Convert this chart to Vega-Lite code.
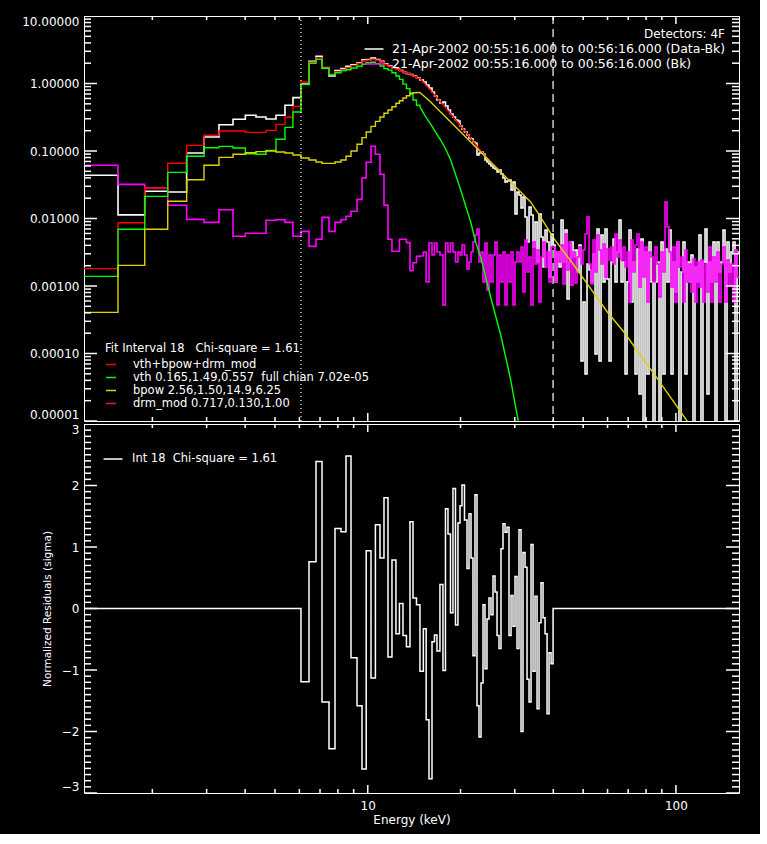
{
"$schema":"https://vega.github.io/schema/vega-lite/v6.json",
"background":"black",
"padding":{"left":21,"top":14,"right":20,"bottom":8},
"spacing":0,
"config":{
 "font":"DejaVu Sans",
 "view":{"stroke":"white","strokeWidth":1},
 "axis":{"domain":false,"grid":false,"labelColor":"white","tickColor":"white","titleColor":"white","labelFontSize":12,"titleFontSize":12,"titleFontWeight":"normal","minExtent":0},
 "legend":{"labelColor":"white","titleColor":"white","labelFontSize":11.5,"titleFontSize":11.5,"titleFontWeight":"normal","symbolType":"stroke","symbolStrokeWidth":1.5,"labelLimit":600,"titleLimit":600,"padding":0}
},
"datasets":{
"ytick":[{"t":0.00001,"k":"ymaj"},{"t":0.0001,"k":"ymaj"},{"t":0.001,"k":"ymaj"},{"t":0.01,"k":"ymaj"},{"t":0.1,"k":"ymaj"},{"t":1,"k":"ymaj"},{"t":10,"k":"ymaj"},
{"t":0.00002,"k":"ymin"},{"t":0.00003,"k":"ymin"},{"t":0.00004,"k":"ymin"},{"t":0.00005,"k":"ymin"},{"t":0.00006,"k":"ymin"},{"t":0.00007,"k":"ymin"},{"t":0.00008,"k":"ymin"},{"t":0.00009,"k":"ymin"},
{"t":0.0002,"k":"ymin"},{"t":0.0003,"k":"ymin"},{"t":0.0004,"k":"ymin"},{"t":0.0005,"k":"ymin"},{"t":0.0006,"k":"ymin"},{"t":0.0007,"k":"ymin"},{"t":0.0008,"k":"ymin"},{"t":0.0009,"k":"ymin"},
{"t":0.002,"k":"ymin"},{"t":0.003,"k":"ymin"},{"t":0.004,"k":"ymin"},{"t":0.005,"k":"ymin"},{"t":0.006,"k":"ymin"},{"t":0.007,"k":"ymin"},{"t":0.008,"k":"ymin"},{"t":0.009,"k":"ymin"},
{"t":0.02,"k":"ymin"},{"t":0.03,"k":"ymin"},{"t":0.04,"k":"ymin"},{"t":0.05,"k":"ymin"},{"t":0.06,"k":"ymin"},{"t":0.07,"k":"ymin"},{"t":0.08,"k":"ymin"},{"t":0.09,"k":"ymin"},
{"t":0.2,"k":"ymin"},{"t":0.3,"k":"ymin"},{"t":0.4,"k":"ymin"},{"t":0.5,"k":"ymin"},{"t":0.6,"k":"ymin"},{"t":0.7,"k":"ymin"},{"t":0.8,"k":"ymin"},{"t":0.9,"k":"ymin"},
{"t":2,"k":"ymin"},{"t":3,"k":"ymin"},{"t":4,"k":"ymin"},{"t":5,"k":"ymin"},{"t":6,"k":"ymin"},{"t":7,"k":"ymin"},{"t":8,"k":"ymin"},{"t":9,"k":"ymin"}],
"rtick":[{"t":-3,"k":"ymaj"},{"t":-2,"k":"ymaj"},{"t":-1,"k":"ymaj"},{"t":0,"k":"ymaj"},{"t":1,"k":"ymaj"},{"t":2,"k":"ymaj"},{"t":3,"k":"ymaj"},
{"t":-2.9,"k":"ymin"},{"t":-2.8,"k":"ymin"},{"t":-2.7,"k":"ymin"},{"t":-2.6,"k":"ymin"},{"t":-2.5,"k":"ymin"},{"t":-2.4,"k":"ymin"},{"t":-2.3,"k":"ymin"},{"t":-2.2,"k":"ymin"},{"t":-2.1,"k":"ymin"},
{"t":-1.9,"k":"ymin"},{"t":-1.8,"k":"ymin"},{"t":-1.7,"k":"ymin"},{"t":-1.6,"k":"ymin"},{"t":-1.5,"k":"ymin"},{"t":-1.4,"k":"ymin"},{"t":-1.3,"k":"ymin"},{"t":-1.2,"k":"ymin"},{"t":-1.1,"k":"ymin"},
{"t":-0.9,"k":"ymin"},{"t":-0.8,"k":"ymin"},{"t":-0.7,"k":"ymin"},{"t":-0.6,"k":"ymin"},{"t":-0.5,"k":"ymin"},{"t":-0.4,"k":"ymin"},{"t":-0.3,"k":"ymin"},{"t":-0.2,"k":"ymin"},{"t":-0.1,"k":"ymin"},
{"t":0.1,"k":"ymin"},{"t":0.2,"k":"ymin"},{"t":0.3,"k":"ymin"},{"t":0.4,"k":"ymin"},{"t":0.5,"k":"ymin"},{"t":0.6,"k":"ymin"},{"t":0.7,"k":"ymin"},{"t":0.8,"k":"ymin"},{"t":0.9,"k":"ymin"},
{"t":1.1,"k":"ymin"},{"t":1.2,"k":"ymin"},{"t":1.3,"k":"ymin"},{"t":1.4,"k":"ymin"},{"t":1.5,"k":"ymin"},{"t":1.6,"k":"ymin"},{"t":1.7,"k":"ymin"},{"t":1.8,"k":"ymin"},{"t":1.9,"k":"ymin"},
{"t":2.1,"k":"ymin"},{"t":2.2,"k":"ymin"},{"t":2.3,"k":"ymin"},{"t":2.4,"k":"ymin"},{"t":2.5,"k":"ymin"},{"t":2.6,"k":"ymin"},{"t":2.7,"k":"ymin"},{"t":2.8,"k":"ymin"},{"t":2.9,"k":"ymin"}],
"xtick":[{"t":10,"k":"xmaj"},{"t":100,"k":"xmaj"},{"t":2,"k":"xmin"},{"t":3,"k":"xmin"},{"t":4,"k":"xmin"},{"t":5,"k":"xmin"},{"t":6,"k":"xmin"},{"t":7,"k":"xmin"},{"t":8,"k":"xmin"},{"t":9,"k":"xmin"},{"t":20,"k":"xmin"},{"t":30,"k":"xmin"},{"t":40,"k":"xmin"},{"t":50,"k":"xmin"},{"t":60,"k":"xmin"},{"t":70,"k":"xmin"},{"t":80,"k":"xmin"},{"t":90,"k":"xmin"}],
"spec":[
{"s":"Data-Bk","e":1.2,"v":0.0437},{"s":"Data-Bk","e":1.547,"v":0.0113},{"s":"Data-Bk","e":1.889,"v":0.0253},{"s":"Data-Bk","e":2.243,"v":0.0247},{"s":"Data-Bk","e":2.584,"v":0.0933},{"s":"Data-Bk","e":2.942,"v":0.161},{"s":"Data-Bk","e":3.29,"v":0.245},{"s":"Data-Bk","e":3.654,"v":0.295},{"s":"Data-Bk","e":4.007,"v":0.338},{"s":"Data-Bk","e":4.338,"v":0.319},
{"s":"Data-Bk","e":4.675,"v":0.298},{"s":"Data-Bk","e":5.038,"v":0.338},{"s":"Data-Bk","e":5.387,"v":0.475},{"s":"Data-Bk","e":5.718,"v":0.617},{"s":"Data-Bk","e":6.071,"v":0.983},{"s":"Data-Bk","e":6.447,"v":2.13},{"s":"Data-Bk","e":6.793,"v":2.53},{"s":"Data-Bk","e":7.105,"v":1.7},{"s":"Data-Bk","e":7.486,"v":1.29},{"s":"Data-Bk","e":7.829,"v":1.55},
{"s":"Data-Bk","e":8.188,"v":1.66},{"s":"Data-Bk","e":8.499,"v":1.8},{"s":"Data-Bk","e":8.823,"v":1.9},{"s":"Data-Bk","e":9.228,"v":2.01},{"s":"Data-Bk","e":9.579,"v":2.25},{"s":"Data-Bk","e":9.884,"v":2.27},{"s":"Data-Bk","e":10.244,"v":2.39},{"s":"Data-Bk","e":10.587,"v":2.27},{"s":"Data-Bk","e":10.957,"v":2.13},{"s":"Data-Bk","e":11.289,"v":1.94},
{"s":"Data-Bk","e":11.631,"v":1.82},{"s":"Data-Bk","e":11.982,"v":1.72},{"s":"Data-Bk","e":12.345,"v":1.64},{"s":"Data-Bk","e":12.67,"v":1.56},{"s":"Data-Bk","e":13.01,"v":1.46},{"s":"Data-Bk","e":13.35,"v":1.4},{"s":"Data-Bk","e":13.71,"v":1.36},{"s":"Data-Bk","e":14.02,"v":1.29},{"s":"Data-Bk","e":14.39,"v":1.2},{"s":"Data-Bk","e":14.77,"v":1.127},
{"s":"Data-Bk","e":15.15,"v":1.052},{"s":"Data-Bk","e":15.47,"v":0.95},{"s":"Data-Bk","e":15.8,"v":0.858},{"s":"Data-Bk","e":16.16,"v":0.748},{"s":"Data-Bk","e":16.46,"v":0.653},{"s":"Data-Bk","e":16.77,"v":0.569},{"s":"Data-Bk","e":17.15,"v":0.514},{"s":"Data-Bk","e":17.54,"v":0.532},{"s":"Data-Bk","e":17.87,"v":0.464},{"s":"Data-Bk","e":18.21,"v":0.405},
{"s":"Data-Bk","e":18.55,"v":0.353},{"s":"Data-Bk","e":18.9,"v":0.319},{"s":"Data-Bk","e":19.26,"v":0.288},{"s":"Data-Bk","e":19.62,"v":0.278},{"s":"Data-Bk","e":19.92,"v":0.235},{"s":"Data-Bk","e":20.22,"v":0.212},{"s":"Data-Bk","e":20.6,"v":0.191},{"s":"Data-Bk","e":20.99,"v":0.173},{"s":"Data-Bk","e":21.31,"v":0.156},{"s":"Data-Bk","e":21.63,"v":0.151},
{"s":"Data-Bk","e":21.95,"v":0.136},{"s":"Data-Bk","e":22.28,"v":0.13},{"s":"Data-Bk","e":22.62,"v":0.0873},{"s":"Data-Bk","e":22.96,"v":0.0934},{"s":"Data-Bk","e":23.31,"v":0.0966},{"s":"Data-Bk","e":23.66,"v":0.0903},{"s":"Data-Bk","e":24.01,"v":0.0736},{"s":"Data-Bk","e":24.37,"v":0.0687},{"s":"Data-Bk","e":24.74,"v":0.0642},{"s":"Data-Bk","e":25.11,"v":0.06},
{"s":"Data-Bk","e":25.49,"v":0.056},{"s":"Data-Bk","e":25.88,"v":0.0541},{"s":"Data-Bk","e":26.27,"v":0.0489},{"s":"Data-Bk","e":26.66,"v":0.0523},{"s":"Data-Bk","e":27.06,"v":0.0456},{"s":"Data-Bk","e":27.47,"v":0.0398},{"s":"Data-Bk","e":27.89,"v":0.0347},{"s":"Data-Bk","e":28.31,"v":0.0359},{"s":"Data-Bk","e":28.73,"v":0.0372},{"s":"Data-Bk","e":29.17,"v":0.0264},
{"s":"Data-Bk","e":29.6,"v":0.0347},{"s":"Data-Bk","e":30.05,"v":0.01166},{"s":"Data-Bk","e":30.5,"v":0.0247},{"s":"Data-Bk","e":30.96,"v":0.0223},{"s":"Data-Bk","e":31.43,"v":0.0143},{"s":"Data-Bk","e":31.9,"v":0.0208},{"s":"Data-Bk","e":32.38,"v":0.01052},{"s":"Data-Bk","e":32.87,"v":0.00449},{"s":"Data-Bk","e":33.37,"v":0.0148},{"s":"Data-Bk","e":33.87,"v":0.01127},
{"s":"Data-Bk","e":34.38,"v":0.00378},{"s":"Data-Bk","e":34.9,"v":0.00887},{"s":"Data-Bk","e":35.43,"v":0.00227},{"s":"Data-Bk","e":35.96,"v":0.01166},{"s":"Data-Bk","e":36.5,"v":0.00532},{"s":"Data-Bk","e":37.05,"v":0.00191},{"s":"Data-Bk","e":37.61,"v":0.00675},{"s":"Data-Bk","e":38.18,"v":0.00449},{"s":"Data-Bk","e":38.75,"v":0.00136},{"s":"Data-Bk","e":39.34,"v":0.00589},
{"s":"Data-Bk","e":39.93,"v":0.00405},{"s":"Data-Bk","e":40.53,"v":0.00115},{"s":"Data-Bk","e":41.14,"v":0.00319},{"s":"Data-Bk","e":41.76,"v":0.00191},{"s":"Data-Bk","e":42.39,"v":0.0095},{"s":"Data-Bk","e":43.03,"v":0.00227},{"s":"Data-Bk","e":43.68,"v":0.00675},{"s":"Data-Bk","e":44.33,"v":0.000642},{"s":"Data-Bk","e":45.0,"v":0.00227},{"s":"Data-Bk","e":45.68,"v":0.00449},
{"s":"Data-Bk","e":46.36,"v":0.00269},{"s":"Data-Bk","e":47.06,"v":0.00341},{"s":"Data-Bk","e":47.77,"v":0.00161},{"s":"Data-Bk","e":48.49,"v":0.00405},{"s":"Data-Bk","e":49.22,"v":0.0000774},{"s":"Data-Bk","e":49.96,"v":0.000579},{"s":"Data-Bk","e":50.71,"v":0.0000497},{"s":"Data-Bk","e":51.47,"v":0.00212},{"s":"Data-Bk","e":52.25,"v":0.00173},{"s":"Data-Bk","e":53.03,"v":0.00115},
{"s":"Data-Bk","e":53.83,"v":0.00298},{"s":"Data-Bk","e":54.64,"v":0.0000983},{"s":"Data-Bk","e":55.46,"v":0.00699},{"s":"Data-Bk","e":56.3,"v":0.0000774},{"s":"Data-Bk","e":57.15,"v":0.0057},{"s":"Data-Bk","e":58.01,"v":0.00115},{"s":"Data-Bk","e":58.88,"v":0.00699},{"s":"Data-Bk","e":59.77,"v":0.00127},{"s":"Data-Bk","e":60.67,"v":0.0000774},{"s":"Data-Bk","e":61.58,"v":0.00227},
{"s":"Data-Bk","e":62.51,"v":0.00497},{"s":"Data-Bk","e":63.45,"v":0.00115},{"s":"Data-Bk","e":64.4,"v":0.00319},{"s":"Data-Bk","e":65.37,"v":0.0095},{"s":"Data-Bk","e":66.36,"v":0.00115},{"s":"Data-Bk","e":67.36,"v":0.00227},{"s":"Data-Bk","e":68.37,"v":0.0000497},{"s":"Data-Bk","e":69.4,"v":0.00115},{"s":"Data-Bk","e":70.44,"v":0.00675},{"s":"Data-Bk","e":71.5,"v":0.000579},
{"s":"Data-Bk","e":72.58,"v":0.00227},{"s":"Data-Bk","e":73.67,"v":0.0000497},{"s":"Data-Bk","e":74.78,"v":0.00353},{"s":"Data-Bk","e":75.91,"v":0.0000251},{"s":"Data-Bk","e":77.05,"v":0.00497},{"s":"Data-Bk","e":78.21,"v":1e-8},{"s":"Data-Bk","e":79.39,"v":0.00319},{"s":"Data-Bk","e":80.58,"v":0.0000497},{"s":"Data-Bk","e":81.79,"v":0.00449},{"s":"Data-Bk","e":83.02,"v":0.00115},
{"s":"Data-Bk","e":84.27,"v":1e-8},{"s":"Data-Bk","e":85.54,"v":0.00115},{"s":"Data-Bk","e":86.83,"v":0.00227},{"s":"Data-Bk","e":88.14,"v":1e-8},{"s":"Data-Bk","e":89.47,"v":0.00449},{"s":"Data-Bk","e":90.81,"v":0.0000497},{"s":"Data-Bk","e":92.18,"v":0.00353},{"s":"Data-Bk","e":93.57,"v":0.00115},{"s":"Data-Bk","e":94.98,"v":0.00675},{"s":"Data-Bk","e":96.41,"v":0.0000497},
{"s":"Data-Bk","e":97.86,"v":0.00227},{"s":"Data-Bk","e":99.33,"v":0.000815},{"s":"Data-Bk","e":100.8,"v":0.00449},{"s":"Data-Bk","e":102.3,"v":1e-8},{"s":"Data-Bk","e":103.9,"v":0.00161},{"s":"Data-Bk","e":105.4,"v":0.00449},{"s":"Data-Bk","e":107.0,"v":0.0000497},{"s":"Data-Bk","e":108.6,"v":0.00227},{"s":"Data-Bk","e":110.3,"v":0.00115},{"s":"Data-Bk","e":111.9,"v":0.00288},
{"s":"Data-Bk","e":113.6,"v":1e-8},{"s":"Data-Bk","e":115.3,"v":0.00191},{"s":"Data-Bk","e":117.1,"v":0.00115},{"s":"Data-Bk","e":118.8,"v":0.0057},{"s":"Data-Bk","e":120.6,"v":1e-8},{"s":"Data-Bk","e":122.4,"v":0.00227},{"s":"Data-Bk","e":124.3,"v":0.00699},{"s":"Data-Bk","e":126.1,"v":0.0000251},{"s":"Data-Bk","e":128.0,"v":0.00227},{"s":"Data-Bk","e":130.0,"v":0.00115},
{"s":"Data-Bk","e":131.9,"v":0.00449},{"s":"Data-Bk","e":133.9,"v":1e-8},{"s":"Data-Bk","e":135.9,"v":0.00449},{"s":"Data-Bk","e":138.0,"v":0.00161},{"s":"Data-Bk","e":140.1,"v":0.00227},{"s":"Data-Bk","e":142.2,"v":0.00675},{"s":"Data-Bk","e":144.3,"v":1e-8},{"s":"Data-Bk","e":146.5,"v":0.00449},{"s":"Data-Bk","e":148.7,"v":0.00161},{"s":"Data-Bk","e":150.9,"v":0.00319},
{"s":"Data-Bk","e":153.2,"v":0.00449},{"s":"Data-Bk","e":155.5,"v":1e-8},{"s":"Data-Bk","e":157.9,"v":0.00319},{"s":"Data-Bk","e":160.2,"v":0.00319},
{"s":"Bk","e":1.2,"v":0.0614},{"s":"Bk","e":1.547,"v":0.032},{"s":"Bk","e":1.889,"v":0.0283},{"s":"Bk","e":2.243,"v":0.0157},{"s":"Bk","e":2.584,"v":0.00972},{"s":"Bk","e":2.942,"v":0.00877},{"s":"Bk","e":3.29,"v":0.0135},{"s":"Bk","e":3.654,"v":0.00545},{"s":"Bk","e":4.007,"v":0.00604},{"s":"Bk","e":4.338,"v":0.00604},
{"s":"Bk","e":4.675,"v":0.0094},{"s":"Bk","e":5.038,"v":0.0096},{"s":"Bk","e":5.387,"v":0.00877},{"s":"Bk","e":5.718,"v":0.00545},{"s":"Bk","e":6.071,"v":0.00645},{"s":"Bk","e":6.447,"v":0.00387},{"s":"Bk","e":6.793,"v":0.00492},{"s":"Bk","e":7.105,"v":0.0104},{"s":"Bk","e":7.486,"v":0.00645},{"s":"Bk","e":7.829,"v":0.00877},
{"s":"Bk","e":8.188,"v":0.0096},{"s":"Bk","e":8.499,"v":0.0108},{"s":"Bk","e":8.823,"v":0.0128},{"s":"Bk","e":9.228,"v":0.0192},{"s":"Bk","e":9.579,"v":0.0398},{"s":"Bk","e":9.884,"v":0.068},{"s":"Bk","e":10.244,"v":0.1175},{"s":"Bk","e":10.587,"v":0.0893},{"s":"Bk","e":10.957,"v":0.0452},{"s":"Bk","e":11.289,"v":0.0158},
{"s":"Bk","e":11.631,"v":0.00492},{"s":"Bk","e":11.982,"v":0.00327},{"s":"Bk","e":12.345,"v":0.00327},{"s":"Bk","e":12.67,"v":0.00492},{"s":"Bk","e":13.01,"v":0.00492},{"s":"Bk","e":13.35,"v":0.00439},{"s":"Bk","e":13.71,"v":0.00169},{"s":"Bk","e":14.02,"v":0.00221},{"s":"Bk","e":14.39,"v":0.00275},{"s":"Bk","e":14.77,"v":0.00278},
{"s":"Bk","e":15.15,"v":0.00319},{"s":"Bk","e":15.47,"v":0.00115},{"s":"Bk","e":15.8,"v":0.00434},{"s":"Bk","e":16.16,"v":0.00288},{"s":"Bk","e":16.46,"v":0.00434},{"s":"Bk","e":16.77,"v":0.00319},{"s":"Bk","e":17.15,"v":0.00288},{"s":"Bk","e":17.54,"v":0.000523},{"s":"Bk","e":17.87,"v":0.00434},{"s":"Bk","e":18.21,"v":0.00319},
{"s":"Bk","e":18.55,"v":0.00434},{"s":"Bk","e":18.9,"v":0.00319},{"s":"Bk","e":19.26,"v":0.00227},{"s":"Bk","e":19.62,"v":0.00319},{"s":"Bk","e":19.92,"v":0.00288},{"s":"Bk","e":20.22,"v":0.00405},{"s":"Bk","e":20.6,"v":0.00288},{"s":"Bk","e":20.99,"v":0.00179},{"s":"Bk","e":21.31,"v":0.00227},{"s":"Bk","e":21.63,"v":0.00319},
{"s":"Bk","e":21.95,"v":0.00449},{"s":"Bk","e":22.28,"v":0.0057},{"s":"Bk","e":22.62,"v":0.00699},{"s":"Bk","e":22.96,"v":0.00227},{"s":"Bk","e":23.31,"v":0.00319},{"s":"Bk","e":23.66,"v":0.00115},{"s":"Bk","e":24.01,"v":0.00434},{"s":"Bk","e":24.37,"v":0.000872},{"s":"Bk","e":24.74,"v":0.00288},{"s":"Bk","e":25.11,"v":0.00115},
{"s":"Bk","e":25.49,"v":0.00288},{"s":"Bk","e":25.88,"v":0.00449},{"s":"Bk","e":26.27,"v":0.000523},{"s":"Bk","e":26.66,"v":0.00288},{"s":"Bk","e":27.06,"v":0.00115},{"s":"Bk","e":27.47,"v":0.00319},{"s":"Bk","e":27.89,"v":0.000523},{"s":"Bk","e":28.31,"v":0.00288},{"s":"Bk","e":28.73,"v":0.00115},{"s":"Bk","e":29.17,"v":0.00319},
{"s":"Bk","e":29.6,"v":0.000523},{"s":"Bk","e":30.05,"v":0.00227},{"s":"Bk","e":30.5,"v":0.00319},{"s":"Bk","e":30.96,"v":0.00227},{"s":"Bk","e":31.43,"v":0.00378},{"s":"Bk","e":31.9,"v":0.000815},{"s":"Bk","e":32.38,"v":0.0048},{"s":"Bk","e":32.87,"v":0.00161},{"s":"Bk","e":33.37,"v":0.00269},{"s":"Bk","e":33.87,"v":0.000523},
{"s":"Bk","e":34.38,"v":0.00449},{"s":"Bk","e":34.9,"v":0.00212},{"s":"Bk","e":35.43,"v":0.00341},{"s":"Bk","e":35.96,"v":0.000579},{"s":"Bk","e":36.5,"v":0.00269},{"s":"Bk","e":37.05,"v":0.00449},{"s":"Bk","e":37.61,"v":0.00191},{"s":"Bk","e":38.18,"v":0.00319},{"s":"Bk","e":38.75,"v":0.00115},{"s":"Bk","e":39.34,"v":0.00378},
{"s":"Bk","e":39.93,"v":0.00378},{"s":"Bk","e":40.53,"v":0.00115},{"s":"Bk","e":41.14,"v":0.00319},{"s":"Bk","e":41.76,"v":0.00227},{"s":"Bk","e":42.39,"v":0.00405},{"s":"Bk","e":43.03,"v":0.00107},{"s":"Bk","e":43.68,"v":0.00589},{"s":"Bk","e":44.33,"v":0.00173},{"s":"Bk","e":45.0,"v":0.00449},{"s":"Bk","e":45.68,"v":0.00103},
{"s":"Bk","e":46.36,"v":0.00319},{"s":"Bk","e":47.06,"v":0.00111},{"s":"Bk","e":47.77,"v":0.00269},{"s":"Bk","e":48.49,"v":0.00378},{"s":"Bk","e":49.22,"v":0.00212},{"s":"Bk","e":49.96,"v":0.00341},{"s":"Bk","e":50.71,"v":0.00589},{"s":"Bk","e":51.47,"v":0.01052},{"s":"Bk","e":52.25,"v":0.00212},{"s":"Bk","e":53.03,"v":0.00107},
{"s":"Bk","e":53.83,"v":0.0048},{"s":"Bk","e":54.64,"v":0.00161},{"s":"Bk","e":55.46,"v":0.0057},{"s":"Bk","e":56.3,"v":0.00341},{"s":"Bk","e":57.15,"v":0.00212},{"s":"Bk","e":58.01,"v":0.00419},{"s":"Bk","e":58.88,"v":0.00136},{"s":"Bk","e":59.77,"v":0.00353},{"s":"Bk","e":60.67,"v":0.00243},{"s":"Bk","e":61.58,"v":0.00378},
{"s":"Bk","e":62.51,"v":0.00212},{"s":"Bk","e":63.45,"v":0.00589},{"s":"Bk","e":64.4,"v":0.00269},{"s":"Bk","e":65.37,"v":0.0048},{"s":"Bk","e":66.36,"v":0.00243},{"s":"Bk","e":67.36,"v":0.00378},{"s":"Bk","e":68.37,"v":0.00191},{"s":"Bk","e":69.4,"v":0.00319},{"s":"Bk","e":70.44,"v":0.000579},{"s":"Bk","e":71.5,"v":0.0048},
{"s":"Bk","e":72.58,"v":0.00161},{"s":"Bk","e":73.67,"v":0.00405},{"s":"Bk","e":74.78,"v":0.00589},{"s":"Bk","e":75.91,"v":0.000966},{"s":"Bk","e":77.05,"v":0.00449},{"s":"Bk","e":78.21,"v":0.00136},{"s":"Bk","e":79.39,"v":0.00378},{"s":"Bk","e":80.58,"v":0.000579},{"s":"Bk","e":81.79,"v":0.00319},{"s":"Bk","e":83.02,"v":0.00269},
{"s":"Bk","e":84.27,"v":0.00115},{"s":"Bk","e":85.54,"v":0.00378},{"s":"Bk","e":86.83,"v":0.00212},{"s":"Bk","e":88.14,"v":0.000687},{"s":"Bk","e":89.47,"v":0.00319},{"s":"Bk","e":90.81,"v":0.00161},{"s":"Bk","e":92.18,"v":0.01756},{"s":"Bk","e":93.57,"v":0.00748},{"s":"Bk","e":94.98,"v":0.00319},{"s":"Bk","e":96.41,"v":0.000966},
{"s":"Bk","e":97.86,"v":0.00378},{"s":"Bk","e":99.33,"v":0.000579},{"s":"Bk","e":100.8,"v":0.00449},{"s":"Bk","e":102.3,"v":0.00191},{"s":"Bk","e":103.9,"v":0.00269},{"s":"Bk","e":105.4,"v":0.000579},{"s":"Bk","e":107.0,"v":0.00341},{"s":"Bk","e":108.6,"v":0.00115},{"s":"Bk","e":110.3,"v":0.00212},{"s":"Bk","e":111.9,"v":0.000815},
{"s":"Bk","e":113.6,"v":0.00251},{"s":"Bk","e":115.3,"v":0.000579},{"s":"Bk","e":117.1,"v":0.00227},{"s":"Bk","e":118.8,"v":0.000966},{"s":"Bk","e":120.6,"v":0.00243},{"s":"Bk","e":122.4,"v":0.000579},{"s":"Bk","e":124.3,"v":0.00212},{"s":"Bk","e":126.1,"v":0.000815},{"s":"Bk","e":128.0,"v":0.00378},{"s":"Bk","e":130.0,"v":0.000579},
{"s":"Bk","e":131.9,"v":0.00269},{"s":"Bk","e":133.9,"v":0.00115},{"s":"Bk","e":135.9,"v":0.00319},{"s":"Bk","e":138.0,"v":0.000579},{"s":"Bk","e":140.1,"v":0.00212},{"s":"Bk","e":142.2,"v":0.00378},{"s":"Bk","e":144.3,"v":0.000579},{"s":"Bk","e":146.5,"v":0.00243},{"s":"Bk","e":148.7,"v":0.00103},{"s":"Bk","e":150.9,"v":0.00212},
{"s":"Bk","e":153.2,"v":0.000579},{"s":"Bk","e":155.5,"v":0.00341},{"s":"Bk","e":157.9,"v":0.00136},{"s":"Bk","e":160.2,"v":0.00136}
],
"model":[
{"s":"vth+bpow+drm_mod","e":1.2,"v":0.00181},{"s":"vth+bpow+drm_mod","e":1.547,"v":0.00867},{"s":"vth+bpow+drm_mod","e":1.889,"v":0.0283},{"s":"vth+bpow+drm_mod","e":2.243,"v":0.0658},{"s":"vth+bpow+drm_mod","e":2.584,"v":0.121},{"s":"vth+bpow+drm_mod","e":2.942,"v":0.171},{"s":"vth+bpow+drm_mod","e":3.29,"v":0.198},{"s":"vth+bpow+drm_mod","e":3.654,"v":0.198},{"s":"vth+bpow+drm_mod","e":4.007,"v":0.189},{"s":"vth+bpow+drm_mod","e":4.338,"v":0.189},
{"s":"vth+bpow+drm_mod","e":4.675,"v":0.202},{"s":"vth+bpow+drm_mod","e":5.038,"v":0.248},{"s":"vth+bpow+drm_mod","e":5.387,"v":0.316},{"s":"vth+bpow+drm_mod","e":5.718,"v":0.459},{"s":"vth+bpow+drm_mod","e":6.071,"v":1.05},{"s":"vth+bpow+drm_mod","e":6.447,"v":2.06},{"s":"vth+bpow+drm_mod","e":6.793,"v":2.39},{"s":"vth+bpow+drm_mod","e":7.105,"v":1.74},{"s":"vth+bpow+drm_mod","e":7.486,"v":1.37},{"s":"vth+bpow+drm_mod","e":7.829,"v":1.5},
{"s":"vth+bpow+drm_mod","e":8.188,"v":1.6},{"s":"vth+bpow+drm_mod","e":8.499,"v":1.71},{"s":"vth+bpow+drm_mod","e":8.823,"v":1.84},{"s":"vth+bpow+drm_mod","e":9.228,"v":1.97},{"s":"vth+bpow+drm_mod","e":9.579,"v":2.15},{"s":"vth+bpow+drm_mod","e":9.884,"v":2.22},{"s":"vth+bpow+drm_mod","e":10.244,"v":2.28},{"s":"vth+bpow+drm_mod","e":10.587,"v":2.22},{"s":"vth+bpow+drm_mod","e":10.957,"v":2.08},{"s":"vth+bpow+drm_mod","e":11.289,"v":1.9},
{"s":"vth+bpow+drm_mod","e":11.631,"v":1.78},{"s":"vth+bpow+drm_mod","e":11.982,"v":1.7},{"s":"vth+bpow+drm_mod","e":12.345,"v":1.62},{"s":"vth+bpow+drm_mod","e":12.67,"v":1.53},{"s":"vth+bpow+drm_mod","e":13.01,"v":1.47},{"s":"vth+bpow+drm_mod","e":13.35,"v":1.4},{"s":"vth+bpow+drm_mod","e":13.71,"v":1.34},{"s":"vth+bpow+drm_mod","e":14.02,"v":1.27},{"s":"vth+bpow+drm_mod","e":14.39,"v":1.19},{"s":"vth+bpow+drm_mod","e":14.77,"v":1.19},
{"s":"vth+bpow+drm_mod","e":16.0,"v":0.79},{"s":"vth+bpow+drm_mod","e":17.24,"v":0.53},{"s":"vth+bpow+drm_mod","e":18.58,"v":0.355},{"s":"vth+bpow+drm_mod","e":20.03,"v":0.235},{"s":"vth+bpow+drm_mod","e":21.58,"v":0.155},{"s":"vth+bpow+drm_mod","e":23.25,"v":0.1},{"s":"vth+bpow+drm_mod","e":25.04,"v":0.0695},{"s":"vth+bpow+drm_mod","e":27.0,"v":0.049},
{"s":"vth","e":1.2,"v":0.00139},{"s":"vth","e":1.547,"v":0.00692},{"s":"vth","e":1.889,"v":0.0213},{"s":"vth","e":2.243,"v":0.0483},{"s":"vth","e":2.584,"v":0.0834},{"s":"vth","e":2.942,"v":0.112},{"s":"vth","e":3.29,"v":0.117},{"s":"vth","e":3.654,"v":0.111},{"s":"vth","e":4.007,"v":0.0912},{"s":"vth","e":4.338,"v":0.0893},
{"s":"vth","e":4.675,"v":0.102},{"s":"vth","e":5.038,"v":0.149},{"s":"vth","e":5.387,"v":0.224},{"s":"vth","e":5.718,"v":0.378},{"s":"vth","e":6.071,"v":0.961},{"s":"vth","e":6.447,"v":1.99},{"s":"vth","e":6.793,"v":2.28},{"s":"vth","e":7.105,"v":1.7},{"s":"vth","e":7.486,"v":1.34},{"s":"vth","e":7.829,"v":1.44},
{"s":"vth","e":8.188,"v":1.55},{"s":"vth","e":8.499,"v":1.6},{"s":"vth","e":8.823,"v":1.7},{"s":"vth","e":9.228,"v":1.8},{"s":"vth","e":9.579,"v":1.93},{"s":"vth","e":9.884,"v":2.03},{"s":"vth","e":10.244,"v":2.06},{"s":"vth","e":10.587,"v":1.97},{"s":"vth","e":10.957,"v":1.82},{"s":"vth","e":11.289,"v":1.66},
{"s":"vth","e":11.631,"v":1.58},{"s":"vth","e":11.982,"v":1.44},{"s":"vth","e":12.345,"v":1.29},{"s":"vth","e":12.67,"v":1.15},{"s":"vth","e":13.01,"v":0.98},{"s":"vth","e":13.35,"v":0.84},{"s":"vth","e":13.71,"v":0.7},{"s":"vth","e":14.02,"v":0.57},{"s":"vth","e":14.39,"v":0.476},{"s":"vth","e":14.77,"v":0.45},
{"s":"vth","e":15.42,"v":0.319},{"s":"vth","e":16.0,"v":0.251},{"s":"vth","e":16.61,"v":0.191},{"s":"vth","e":17.24,"v":0.145},{"s":"vth","e":17.9,"v":0.107},{"s":"vth","e":18.58,"v":0.0736},{"s":"vth","e":19.29,"v":0.0441},{"s":"vth","e":20.03,"v":0.0264},{"s":"vth","e":20.78,"v":0.0153},{"s":"vth","e":21.58,"v":0.00887},
{"s":"vth","e":22.39,"v":0.00449},{"s":"vth","e":23.25,"v":0.00269},{"s":"vth","e":24.13,"v":0.00136},{"s":"vth","e":25.04,"v":0.000687},{"s":"vth","e":26.0,"v":0.000359},{"s":"vth","e":27.0,"v":0.000188},{"s":"vth","e":28.02,"v":0.0000887},{"s":"vth","e":29.09,"v":0.0000405},{"s":"vth","e":30.19,"v":0.0000161},{"s":"vth","e":31.35,"v":0.0000065},
{"s":"bpow","e":1.2,"v":0.000407},{"s":"bpow","e":1.547,"v":0.00202},{"s":"bpow","e":1.889,"v":0.00692},{"s":"bpow","e":2.243,"v":0.018},{"s":"bpow","e":2.584,"v":0.0376},{"s":"bpow","e":2.942,"v":0.0614},{"s":"bpow","e":3.29,"v":0.0805},{"s":"bpow","e":3.654,"v":0.0893},{"s":"bpow","e":4.007,"v":0.0944},{"s":"bpow","e":4.338,"v":0.098},
{"s":"bpow","e":4.675,"v":0.1},{"s":"bpow","e":5.038,"v":0.0965},{"s":"bpow","e":5.387,"v":0.0934},{"s":"bpow","e":5.718,"v":0.0873},{"s":"bpow","e":6.071,"v":0.0787},{"s":"bpow","e":6.447,"v":0.0736},{"s":"bpow","e":6.793,"v":0.0687},{"s":"bpow","e":7.105,"v":0.0656},{"s":"bpow","e":7.486,"v":0.0656},{"s":"bpow","e":7.829,"v":0.0687},
{"s":"bpow","e":8.188,"v":0.0736},{"s":"bpow","e":8.499,"v":0.0834},{"s":"bpow","e":8.823,"v":0.1},{"s":"bpow","e":9.228,"v":0.126},{"s":"bpow","e":9.579,"v":0.158},{"s":"bpow","e":9.884,"v":0.191},{"s":"bpow","e":10.244,"v":0.232},{"s":"bpow","e":10.587,"v":0.275},{"s":"bpow","e":10.957,"v":0.319},{"s":"bpow","e":11.289,"v":0.362},
{"s":"bpow","e":11.631,"v":0.405},{"s":"bpow","e":11.982,"v":0.453},{"s":"bpow","e":12.345,"v":0.509},{"s":"bpow","e":12.67,"v":0.556},{"s":"bpow","e":13.01,"v":0.609},{"s":"bpow","e":13.35,"v":0.659},{"s":"bpow","e":13.71,"v":0.716},{"s":"bpow","e":14.02,"v":0.731},{"s":"bpow","e":14.39,"v":0.735},{"s":"bpow","e":14.77,"v":0.736},
{"s":"bpow","e":16.0,"v":0.532},{"s":"bpow","e":17.24,"v":0.378},{"s":"bpow","e":18.58,"v":0.269},{"s":"bpow","e":20.03,"v":0.191},{"s":"bpow","e":21.58,"v":0.136},{"s":"bpow","e":23.25,"v":0.0966},{"s":"bpow","e":25.04,"v":0.0687},{"s":"bpow","e":27.0,"v":0.0489},{"s":"bpow","e":29.09,"v":0.0347},{"s":"bpow","e":31.35,"v":0.0247},
{"s":"bpow","e":33.77,"v":0.0176},{"s":"bpow","e":36.39,"v":0.0105},{"s":"bpow","e":40.19,"v":0.00502},{"s":"bpow","e":46.67,"v":0.00203},{"s":"bpow","e":52.87,"v":0.000912},{"s":"bpow","e":59.9,"v":0.000412},{"s":"bpow","e":67.8,"v":0.000208},{"s":"bpow","e":76.82,"v":0.000094},{"s":"bpow","e":87.04,"v":0.0000424},{"s":"bpow","e":98.52,"v":0.0000191},{"s":"bpow","e":111.6,"v":0.0000084}
],
"fit":[{"bound":"start","e":6.071},{"bound":"end","e":39.93}],
"resid":[
{"s":"Int 18","e":1.2,"r":0},{"s":"Int 18","e":6.071,"r":-1.19},{"s":"Int 18","e":6.447,"r":0.76},{"s":"Int 18","e":6.793,"r":2.39},{"s":"Int 18","e":7.105,"r":-1.52},{"s":"Int 18","e":7.486,"r":-2.28},{"s":"Int 18","e":7.829,"r":1.3},{"s":"Int 18","e":8.188,"r":1.25},{"s":"Int 18","e":8.499,"r":2.48},{"s":"Int 18","e":8.823,"r":-0.8},
{"s":"Int 18","e":9.228,"r":-1.58},{"s":"Int 18","e":9.579,"r":-2.61},{"s":"Int 18","e":9.884,"r":0.94},{"s":"Int 18","e":10.244,"r":-1.13},{"s":"Int 18","e":10.587,"r":1.36},{"s":"Int 18","e":10.957,"r":0.82},{"s":"Int 18","e":11.289,"r":1.8},{"s":"Int 18","e":11.631,"r":-0.79},{"s":"Int 18","e":11.982,"r":0.79},{"s":"Int 18","e":12.345,"r":-0.41},
{"s":"Int 18","e":12.67,"r":0.08},{"s":"Int 18","e":13.01,"r":-0.44},{"s":"Int 18","e":13.35,"r":-0.62},{"s":"Int 18","e":13.71,"r":1.41},{"s":"Int 18","e":14.02,"r":0.17},{"s":"Int 18","e":14.39,"r":0.06},{"s":"Int 18","e":14.77,"r":-1.02},{"s":"Int 18","e":15.15,"r":-0.33},{"s":"Int 18","e":15.47,"r":-1.81},{"s":"Int 18","e":15.8,"r":-2.77},
{"s":"Int 18","e":16.16,"r":-0.54},{"s":"Int 18","e":16.46,"r":-0.43},{"s":"Int 18","e":16.77,"r":-0.69},{"s":"Int 18","e":17.15,"r":0.39},{"s":"Int 18","e":17.54,"r":-1.01},{"s":"Int 18","e":17.87,"r":1.62},{"s":"Int 18","e":18.21,"r":1.21},{"s":"Int 18","e":18.55,"r":-0.07},{"s":"Int 18","e":18.9,"r":1.95},{"s":"Int 18","e":19.26,"r":-0.27},
{"s":"Int 18","e":19.62,"r":1.39},{"s":"Int 18","e":19.92,"r":1.67},{"s":"Int 18","e":20.22,"r":2.01},{"s":"Int 18","e":20.6,"r":1.44},{"s":"Int 18","e":20.99,"r":0.65},{"s":"Int 18","e":21.31,"r":1.54},{"s":"Int 18","e":21.63,"r":0.82},{"s":"Int 18","e":21.95,"r":-0.77},{"s":"Int 18","e":22.28,"r":1.85},{"s":"Int 18","e":22.62,"r":-1.58},
{"s":"Int 18","e":22.96,"r":-2.09},{"s":"Int 18","e":23.31,"r":-1.21},{"s":"Int 18","e":23.66,"r":0.06},{"s":"Int 18","e":24.01,"r":-0.98},{"s":"Int 18","e":24.37,"r":-0.17},{"s":"Int 18","e":24.74,"r":0.17},{"s":"Int 18","e":25.11,"r":-0.1},{"s":"Int 18","e":25.49,"r":0.53},{"s":"Int 18","e":25.88,"r":0.27},{"s":"Int 18","e":26.27,"r":-0.44},
{"s":"Int 18","e":26.66,"r":-0.65},{"s":"Int 18","e":27.06,"r":0.97},{"s":"Int 18","e":27.47,"r":1.38},{"s":"Int 18","e":27.89,"r":1.24},{"s":"Int 18","e":28.31,"r":1.32},{"s":"Int 18","e":28.73,"r":-0.44},{"s":"Int 18","e":29.17,"r":0.21},{"s":"Int 18","e":29.6,"r":-0.29},{"s":"Int 18","e":30.05,"r":0.52},{"s":"Int 18","e":30.5,"r":-0.65},
{"s":"Int 18","e":30.96,"r":1.28},{"s":"Int 18","e":31.43,"r":-2.0},{"s":"Int 18","e":31.9,"r":0.91},{"s":"Int 18","e":32.38,"r":0.67},{"s":"Int 18","e":32.87,"r":-1.15},{"s":"Int 18","e":33.37,"r":-1.52},{"s":"Int 18","e":33.87,"r":1.04},{"s":"Int 18","e":34.38,"r":-1.02},{"s":"Int 18","e":34.9,"r":0.2},{"s":"Int 18","e":35.43,"r":-1.63},
{"s":"Int 18","e":35.96,"r":-0.23},{"s":"Int 18","e":36.5,"r":0.42},{"s":"Int 18","e":37.05,"r":-0.15},{"s":"Int 18","e":37.61,"r":-0.41},{"s":"Int 18","e":38.18,"r":-1.71},{"s":"Int 18","e":38.75,"r":-0.72},{"s":"Int 18","e":39.34,"r":-0.9},{"s":"Int 18","e":39.93,"r":0},{"s":"Int 18","e":160.2,"r":0}
]
},
"resolve":{"scale":{"x":"independent","y":"independent","stroke":"independent","color":"independent"},"legend":{"stroke":"independent","color":"independent"}},
"vconcat":[
{
 "width":655,"height":405,
 "resolve":{"axis":{"x":"independent","y":"independent"}},
 "layer":[
  {"data":{"name":"spec"},
   "mark":{"type":"line","interpolate":"step-after","clip":true,"strokeWidth":1.6},
   "encoding":{
    "x":{"field":"e","type":"quantitative","scale":{"type":"log","domain":[1.2,160.2],"nice":false},"axis":null},
    "y":{"field":"v","type":"quantitative","scale":{"type":"log","domain":[0.00001,10],"nice":false},"axis":{"orient":"left","values":[0.00001,0.0001,0.001,0.01,0.1,1,10],"format":".5f","ticks":false,"tickSize":0,"labelPadding":5,"labelFlush":true,"title":null}},
    "stroke":{"field":"s","type":"nominal","scale":{"domain":["Data-Bk","Bk"],"range":["#ffffff","#ff00ff"]},
      "legend":{"orient":"top-right","offset":13,"title":"Detectors: 4F","titleAnchor":"end","titlePadding":0,"titleFontSize":12,"labelFontSize":12.5,"labelExpr":"'21-Apr-2002 00:55:16.000 to 00:56:16.000 (' + datum.label + ')'","symbolType":"M-1.35,0H1.35","symbolSize":196,"labelOffset":10,"rowPadding":-3}}
   }},
  {"data":{"name":"model"},
   "transform":[{"filter":"datum.e <= 14.77"}],
   "mark":{"type":"line","interpolate":"step-after","clip":true,"strokeWidth":1.4},
   "encoding":{
    "x":{"field":"e","type":"quantitative","scale":{"type":"log","domain":[1.2,160.2],"nice":false},"axis":null},
    "y":{"field":"v","type":"quantitative","scale":{"type":"log","domain":[0.00001,10],"nice":false},"axis":null},
    "color":{"field":"s","type":"nominal","scale":{"domain":["vth+bpow+drm_mod","vth","bpow","drm_mod"],"range":["#ff0000","#00ff00","#dcd400","#e0106e"]},
      "legend":{"orient":"none","legendX":21,"legendY":327,"title":"Fit Interval 18\u00a0\u00a0\u00a0Chi-square = 1.61","titlePadding":4,"labelExpr":"datum.label == 'vth' ? 'vth 0.165,1.49,0.557\u00a0\u00a0full chian 7.02e-05' : datum.label == 'bpow' ? 'bpow 2.56,1.50,14.9,6.25' : datum.label == 'drm_mod' ? 'drm_mod 0.717,0.130,1.00' : datum.label","symbolSize":100,"labelOffset":16,"rowPadding":1}}
   }},
  {"data":{"name":"model"},
   "transform":[{"filter":"datum.e >= 14.77"}],
   "mark":{"type":"line","clip":true,"strokeWidth":1.4},
   "encoding":{
    "x":{"field":"e","type":"quantitative","scale":{"type":"log","domain":[1.2,160.2],"nice":false},"axis":null},
    "y":{"field":"v","type":"quantitative","scale":{"type":"log","domain":[0.00001,10],"nice":false},"axis":null},
    "color":{"field":"s","type":"nominal","scale":{"domain":["vth+bpow+drm_mod","vth","bpow","drm_mod"],"range":["#ff0000","#00ff00","#dcd400","#e0106e"]},
      "legend":{"orient":"none","legendX":21,"legendY":327,"title":"Fit Interval 18\u00a0\u00a0\u00a0Chi-square = 1.61","titlePadding":4,"labelExpr":"datum.label == 'vth' ? 'vth 0.165,1.49,0.557\u00a0\u00a0full chian 7.02e-05' : datum.label == 'bpow' ? 'bpow 2.56,1.50,14.9,6.25' : datum.label == 'drm_mod' ? 'drm_mod 0.717,0.130,1.00' : datum.label","symbolSize":100,"labelOffset":16,"rowPadding":1}}
   }},
  {"data":{"name":"fit"},
   "mark":{"type":"rule","color":"white","strokeWidth":1.2,"clip":true},
   "encoding":{
    "x":{"field":"e","type":"quantitative","scale":{"type":"log","domain":[1.2,160.2],"nice":false},"axis":null},
    "strokeDash":{"field":"bound","type":"nominal","scale":{"domain":["start","end"],"range":[[1,3],[8,5]]},"legend":null}
   }},
  {"data":{"name":"ytick"},
   "mark":{"type":"tick","orient":"horizontal","thickness":1.5,"color":"white","opacity":1,"clip":true},
   "encoding":{
    "x":{"datum":1.2,"type":"quantitative","scale":{"type":"log","domain":[1.2,160.2],"nice":false},"axis":null},
    "y":{"field":"t","type":"quantitative","scale":{"type":"log","domain":[0.00001,10],"nice":false},"axis":null},
    "size":{"field":"k","type":"ordinal","scale":{"type":"ordinal","domain":["ymaj","ymin","xmaj","xmin"],"range":[26,14,16,8]},"legend":null}
   }},
  {"data":{"name":"ytick"},
   "mark":{"type":"tick","orient":"horizontal","thickness":1.5,"color":"white","opacity":1,"clip":true},
   "encoding":{
    "x":{"datum":160.2,"type":"quantitative","scale":{"type":"log","domain":[1.2,160.2],"nice":false},"axis":null},
    "y":{"field":"t","type":"quantitative","scale":{"type":"log","domain":[0.00001,10],"nice":false},"axis":null},
    "size":{"field":"k","type":"ordinal","scale":{"type":"ordinal","domain":["ymaj","ymin","xmaj","xmin"],"range":[26,14,16,8]},"legend":null}
   }},
  {"data":{"name":"xtick"},
   "mark":{"type":"tick","orient":"vertical","thickness":1.5,"color":"white","opacity":1,"clip":true},
   "encoding":{
    "x":{"field":"t","type":"quantitative","scale":{"type":"log","domain":[1.2,160.2],"nice":false},"axis":null},
    "y":{"datum":0.00001,"type":"quantitative","scale":{"type":"log","domain":[0.00001,10],"nice":false},"axis":null},
    "size":{"field":"k","type":"ordinal","scale":{"type":"ordinal","domain":["ymaj","ymin","xmaj","xmin"],"range":[26,14,16,8]},"legend":null}
   }},
  {"data":{"name":"xtick"},
   "mark":{"type":"tick","orient":"vertical","thickness":1.5,"color":"white","opacity":1,"clip":true},
   "encoding":{
    "x":{"field":"t","type":"quantitative","scale":{"type":"log","domain":[1.2,160.2],"nice":false},"axis":null},
    "y":{"datum":10,"type":"quantitative","scale":{"type":"log","domain":[0.00001,10],"nice":false},"axis":null},
    "size":{"field":"k","type":"ordinal","scale":{"type":"ordinal","domain":["ymaj","ymin","xmaj","xmin"],"range":[26,14,16,8]},"legend":null}
   }}
 ]
},
{
 "width":655,"height":369,
 "resolve":{"axis":{"x":"independent","y":"independent"}},
 "layer":[
  {"data":{"name":"resid"},
   "mark":{"type":"line","interpolate":"step-after","clip":true,"strokeWidth":1.5},
   "encoding":{
    "x":{"field":"e","type":"quantitative","scale":{"type":"log","domain":[1.2,160.2],"nice":false},"axis":{"orient":"bottom","values":[10,100],"format":"d","ticks":false,"tickSize":0,"labelPadding":7,"title":"Energy (keV)","titlePadding":3}},
    "y":{"field":"r","type":"quantitative","scale":{"domain":[-3,3],"nice":false,"zero":false},"axis":{"orient":"left","values":[-3,-2,-1,0,1,2,3],"ticks":false,"tickSize":0,"labelPadding":5,"labelFlush":true,"title":"Normalized Residuals (sigma)","titleFontSize":10.5,"titlePadding":9}},
    "stroke":{"field":"s","type":"nominal","scale":{"domain":["Int 18"],"range":["#ffffff"]},
      "legend":{"orient":"none","legendX":21,"legendY":27,"title":null,"labelExpr":"datum.label + '\u00a0\u00a0Chi-square = 1.61'","symbolType":"M-1.35,0H1.35","symbolSize":196,"labelOffset":11}}
   }},
  {"data":{"name":"rtick"},
   "mark":{"type":"tick","orient":"horizontal","thickness":1.5,"color":"white","opacity":1,"clip":true},
   "encoding":{
    "x":{"datum":1.2,"type":"quantitative","scale":{"type":"log","domain":[1.2,160.2],"nice":false},"axis":null},
    "y":{"field":"t","type":"quantitative","scale":{"domain":[-3,3],"nice":false,"zero":false},"axis":null},
    "size":{"field":"k","type":"ordinal","scale":{"type":"ordinal","domain":["ymaj","ymin","xmaj","xmin"],"range":[26,14,16,8]},"legend":null}
   }},
  {"data":{"name":"rtick"},
   "mark":{"type":"tick","orient":"horizontal","thickness":1.5,"color":"white","opacity":1,"clip":true},
   "encoding":{
    "x":{"datum":160.2,"type":"quantitative","scale":{"type":"log","domain":[1.2,160.2],"nice":false},"axis":null},
    "y":{"field":"t","type":"quantitative","scale":{"domain":[-3,3],"nice":false,"zero":false},"axis":null},
    "size":{"field":"k","type":"ordinal","scale":{"type":"ordinal","domain":["ymaj","ymin","xmaj","xmin"],"range":[26,14,16,8]},"legend":null}
   }},
  {"data":{"name":"xtick"},
   "mark":{"type":"tick","orient":"vertical","thickness":1.5,"color":"white","opacity":1,"clip":true},
   "encoding":{
    "x":{"field":"t","type":"quantitative","scale":{"type":"log","domain":[1.2,160.2],"nice":false},"axis":null},
    "y":{"datum":-3,"type":"quantitative","scale":{"domain":[-3,3],"nice":false,"zero":false},"axis":null},
    "size":{"field":"k","type":"ordinal","scale":{"type":"ordinal","domain":["ymaj","ymin","xmaj","xmin"],"range":[26,14,16,8]},"legend":null}
   }},
  {"data":{"name":"xtick"},
   "mark":{"type":"tick","orient":"vertical","thickness":1.5,"color":"white","opacity":1,"clip":true},
   "encoding":{
    "x":{"field":"t","type":"quantitative","scale":{"type":"log","domain":[1.2,160.2],"nice":false},"axis":null},
    "y":{"datum":3,"type":"quantitative","scale":{"domain":[-3,3],"nice":false,"zero":false},"axis":null},
    "size":{"field":"k","type":"ordinal","scale":{"type":"ordinal","domain":["ymaj","ymin","xmaj","xmin"],"range":[26,14,16,8]},"legend":null}
   }}
 ]
}
]
}
